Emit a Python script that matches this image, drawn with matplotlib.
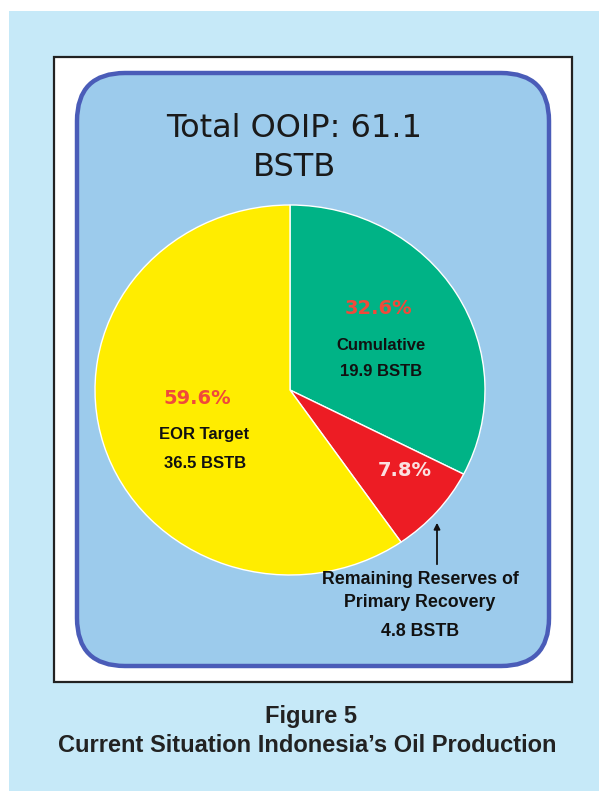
import matplotlib
matplotlib.use("Agg")
import matplotlib.pyplot as plt
from matplotlib.patches import Rectangle, FancyBboxPatch

# data
names = ["Cumulative", "Remaining Reserves of\nPrimary Recovery", "EOR Target"]
values = [19.9, 4.8, 36.5]
pct_labels = ["32.6%", "7.8%", "59.6%"]
amount_labels = ["19.9 BSTB", "4.8 BSTB", "36.5 BSTB"]
colors = ["#00b386", "#ed1c24", "#ffed00"]
title = "Total OOIP: 61.1\nBSTB"
caption = ["Figure 5", "Current Situation Indonesia\u2019s Oil Production"]

W, H = 599, 791
fig = plt.figure(figsize=(W / 100, H / 100), dpi=100, facecolor="white")

# background frames in pixel coordinates
bg = fig.add_axes([0, 0, 1, 1])
bg.set_xlim(0, W)
bg.set_ylim(H, 0)
bg.axis("off")

bg.add_patch(Rectangle((9, 11), W - 9, H - 11, facecolor="#c6e9f8", edgecolor="none"))
bg.add_patch(Rectangle((54, 57), 518, 625, facecolor="white", edgecolor="#222222", lw=1.6))
bg.add_patch(FancyBboxPatch((77, 73), 472, 593,
                            boxstyle="round,pad=0,rounding_size=48",
                            facecolor="#9ccbec", edgecolor="#4a5cb8", lw=3.2))

# pie in its own axes (slightly elliptical as in the picture)
left, right, top, bottom = 95, 485, 205, 575
pax = fig.add_axes([left / W, (H - bottom) / H, (right - left) / W, (bottom - top) / H])
pax.pie(values, colors=colors, startangle=90, counterclock=False,
        wedgeprops=dict(edgecolor="white", linewidth=1.0))
pax.set_aspect("auto")
pax.set_xlim(-1, 1)
pax.set_ylim(-1, 1)
pax.axis("off")

# text layer on top, pixel coordinates again
tx = fig.add_axes([0, 0, 1, 1])
tx.set_xlim(0, W)
tx.set_ylim(H, 0)
tx.axis("off")
tx.patch.set_alpha(0)

tx.text(294, 148, title, ha="center", va="center", fontsize=23,
        color="#1a1a1a", family="DejaVu Sans", linespacing=1.3)

lab_font = ["Liberation Sans Narrow", "Liberation Sans", "DejaVu Sans"]
pct_kw = dict(ha="center", va="center", fontsize=14, fontweight="bold",
              family="DejaVu Sans")

# Cumulative
tx.text(378, 309, pct_labels[0], color="#f04a3a", **pct_kw)
tx.text(381, 345, names[0], ha="center", va="center", fontsize=12,
        fontweight="bold", color="#111111", family=lab_font)
tx.text(381, 372, amount_labels[0], ha="center", va="center", fontsize=12,
        fontweight="bold", color="#111111", family=lab_font)

# EOR target
tx.text(197, 399, pct_labels[2], color="#f04a3a", **pct_kw)
tx.text(204, 434, names[2], ha="center", va="center", fontsize=12,
        fontweight="bold", color="#111111", family=lab_font)
tx.text(205, 463, amount_labels[2], ha="center", va="center", fontsize=12,
        fontweight="bold", color="#111111", family=lab_font)

# Remaining reserves
tx.text(405, 471, pct_labels[1], color="#fbe0e0", **pct_kw)
tx.annotate("", xy=(437, 520), xytext=(437, 567),
            arrowprops=dict(arrowstyle="-|>", color="#111111", lw=1.3,
                            mutation_scale=9))
tx.text(420, 591, names[1], ha="center", va="center", fontsize=12.8,
        fontweight="bold", color="#111111", family=lab_font, linespacing=1.45)
tx.text(420, 631, amount_labels[1], ha="center", va="center", fontsize=12.8,
        fontweight="bold", color="#111111", family=lab_font)

# caption
tx.text(311, 717, caption[0], ha="center", va="center", fontsize=17,
        fontweight="bold", color="#222222", family="Liberation Sans")
tx.text(307, 745, caption[1], ha="center", va="center", fontsize=17,
        fontweight="bold", color="#222222", family="Liberation Sans")

fig.savefig("out.png", dpi=100, facecolor="white")
